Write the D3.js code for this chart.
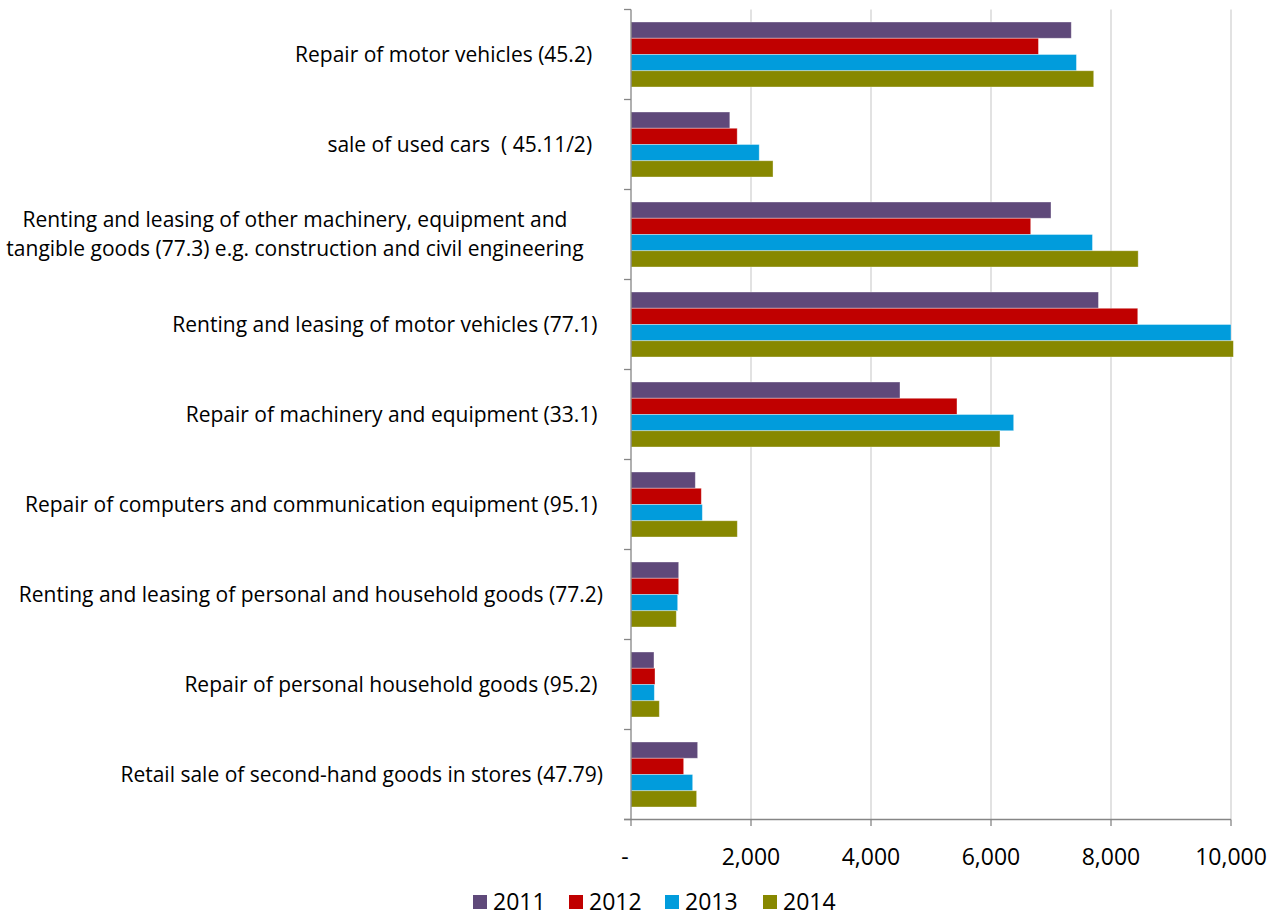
<!DOCTYPE html>
<html>
<head>
<meta charset="utf-8">
<script src="https://cdn.jsdelivr.net/npm/d3@7/dist/d3.min.js"></script>
<style>
  html, body { margin: 0; padding: 0; background: #fff; }
  svg text { font-family: "Open Sans", "Lato", sans-serif; fill: #000; white-space: pre; }
</style>
</head>
<body>
<svg id="chart" width="1278" height="918"></svg>
<script>
const categories = [
  "Repair of motor vehicles (45.2)  ",
  "sale of used cars  ( 45.11/2)  ",
  "Renting and leasing of other machinery, equipment and\ntangible goods (77.3) e.g. construction and civil engineering",
  "Renting and leasing of motor vehicles (77.1) ",
  "Repair of machinery and equipment (33.1) ",
  "Repair of computers and communication equipment (95.1) ",
  "Renting and leasing of personal and household goods (77.2)",
  "Repair of personal household goods (95.2) ",
  "Retail sale of second-hand goods in stores (47.79)"
];
const years = ["2011", "2012", "2013", "2014"];
const values2011 = [7338, 1647, 7000, 7791, 4483, 1072, 795, 383, 1111];
const values2012 = [6791, 1770, 6662, 8446, 5433, 1172, 795, 400, 878];
const values2013 = [7424, 2137, 7691, 10000, 6378, 1189, 778, 389, 1028];
const values2014 = [7712, 2367, 8453, 10040, 6150, 1772, 755, 472, 1094];
const tickValues = [0, 2000, 4000, 6000, 8000, 10000];
const tickLabels = ["-", "2,000", "4,000", "6,000", "8,000", "10,000"];
const colors = ["#5F497A", "#C00000", "#019CDC", "#878800"];

const series = [values2011, values2012, values2013, values2014];
const svg = d3.select("#chart");

const x = d3.scaleLinear().domain([0, 10000]).range([631, 1231]);
const y = d3.scaleBand().domain(d3.range(categories.length)).range([9.5, 819.5]).padding(0);
const yi = d3.scaleBand().domain(years).range([12.5, y.bandwidth() - 12.5]).padding(0);

// gridlines
svg.append("g").selectAll("line").data(tickValues.slice(1)).join("line")
  .attr("x1", d => x(d)).attr("x2", d => x(d))
  .attr("y1", 9.5).attr("y2", 819.5)
  .attr("stroke", "#D9D9D9").attr("stroke-width", 1.5);

// bars
const groups = svg.append("g").selectAll("g").data(categories).join("g")
  .attr("transform", (d, i) => `translate(0,${y(i)})`);
groups.each(function(c, i) {
  d3.select(this).selectAll("rect").data(years).join("rect")
    .attr("x", x(0))
    .attr("y", d => yi(d))
    .attr("width", (d, k) => x(series[k][i]) - x(0))
    .attr("height", yi.bandwidth())
    .attr("fill", (d, k) => colors[k])
    .attr("stroke", "rgba(255,255,255,0.45)")
    .attr("stroke-width", 0.8);
});

// y axis
const yAxis = svg.append("g");
yAxis.append("line").attr("x1", 631).attr("x2", 631).attr("y1", 9.5).attr("y2", 819.5)
  .attr("stroke", "#868686").attr("stroke-width", 1.3);
yAxis.selectAll("line.tk").data(d3.range(categories.length + 1)).join("line").attr("class", "tk")
  .attr("x1", 624).attr("x2", 631)
  .attr("y1", d => 9.5 + d * y.step()).attr("y2", d => 9.5 + d * y.step())
  .attr("stroke", "#868686").attr("stroke-width", 1.3);

// category labels
groups.each(function(c, i) {
  const lines = c.split("\n");
  const t = d3.select(this).append("text")
    .attr("text-anchor", lines.length > 1 ? "middle" : "end")
    .attr("font-size", 21);
  const cy = y.bandwidth() / 2;
  const lh = 29;
  lines.forEach((ln, j) => {
    t.append("tspan")
      .attr("x", lines.length > 1 ? 295 : 603)
      .attr("y", cy + (j - (lines.length - 1) / 2) * lh)
      .attr("dy", "0.35em")
      .text(ln);
  });
});

// x axis
const xAxis = svg.append("g");
xAxis.append("line").attr("x1", 624).attr("x2", 1231).attr("y1", 819.5).attr("y2", 819.5)
  .attr("stroke", "#868686").attr("stroke-width", 1.3);
xAxis.selectAll("line.tk").data(tickValues).join("line").attr("class", "tk")
  .attr("x1", d => x(d)).attr("x2", d => x(d)).attr("y1", 819.5).attr("y2", 826)
  .attr("stroke", "#868686").attr("stroke-width", 1.3);
xAxis.selectAll("text").data(tickValues).join("text")
  .attr("x", (d, i) => i === 0 ? x(d) - 6 : x(d))
  .attr("y", 857).attr("dy", "0.35em")
  .attr("text-anchor", "middle").attr("font-size", 23)
  .text((d, i) => tickLabels[i]);

// legend
const legendX = [473, 569, 665, 763];
const legend = svg.append("g").selectAll("g").data(years).join("g")
  .attr("transform", (d, i) => `translate(${legendX[i]},902)`);
legend.append("rect").attr("x", 0).attr("y", -7).attr("width", 14).attr("height", 14)
  .attr("fill", (d, i) => colors[i]);
legend.append("text").attr("x", 20).attr("y", 0).attr("dy", "0.35em")
  .attr("font-size", 23).text(d => d);
</script>
</body>
</html>
